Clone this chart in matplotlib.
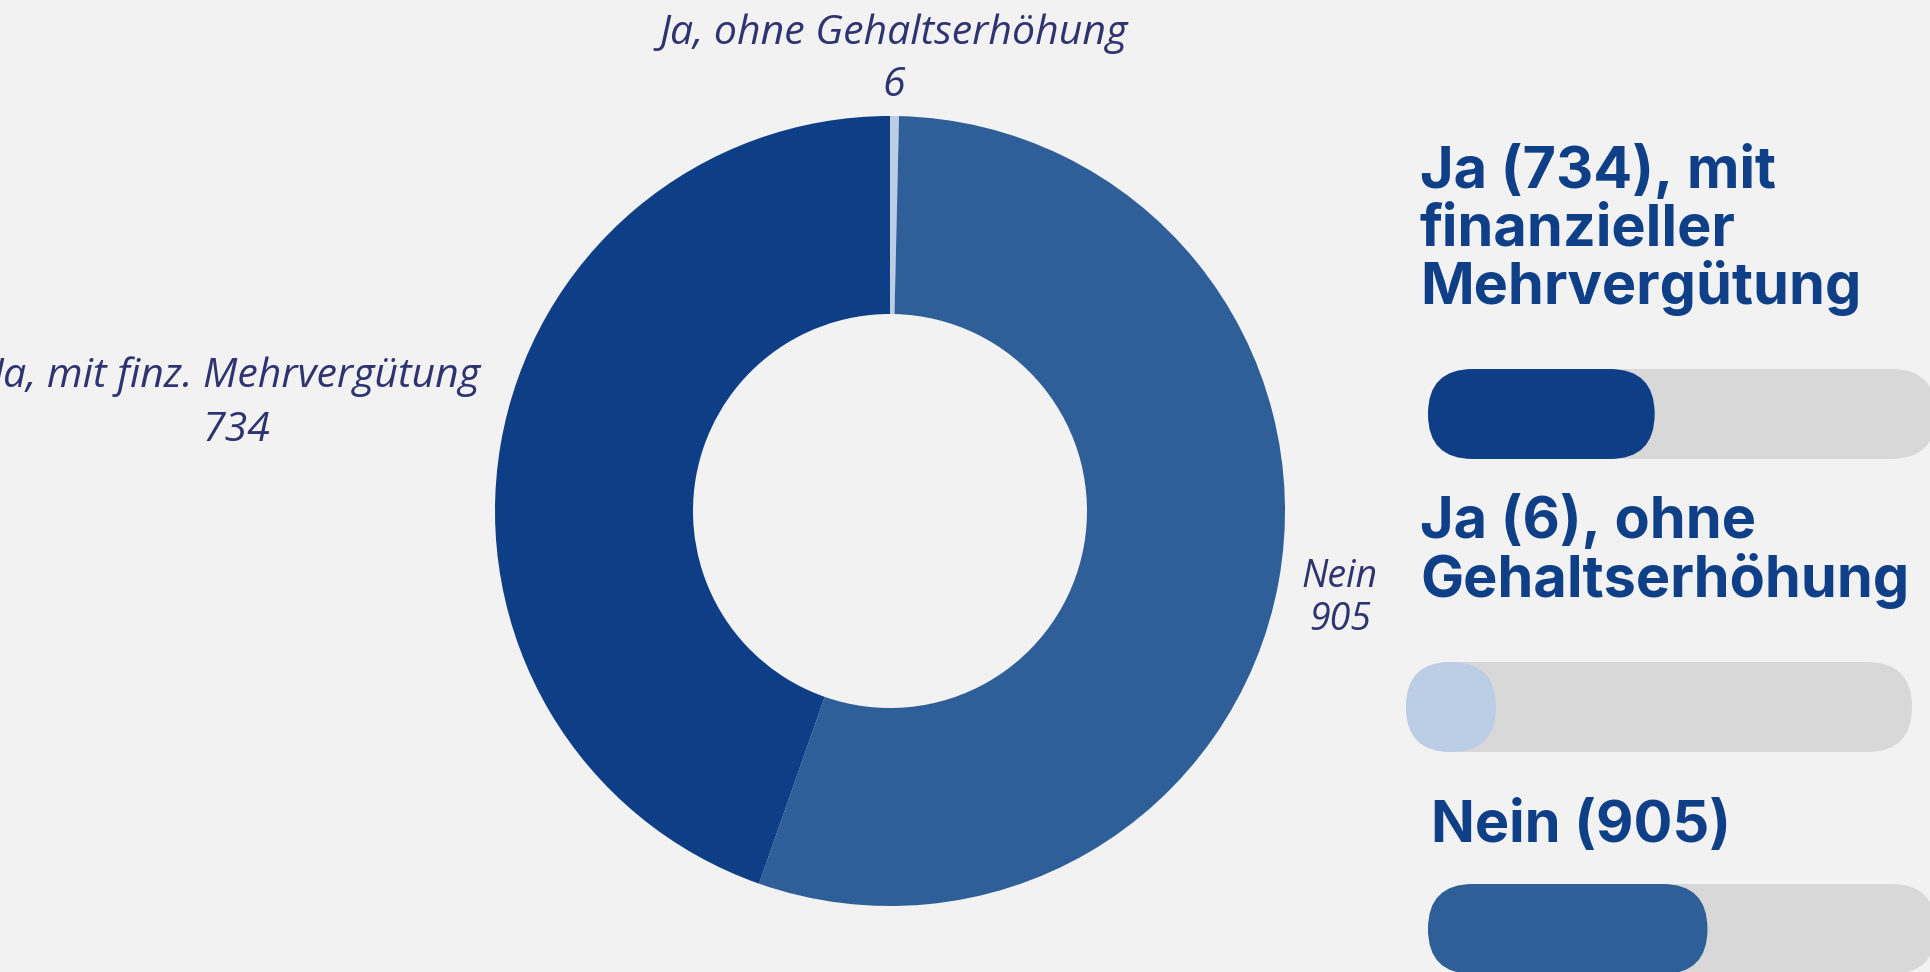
import matplotlib.pyplot as plt
from matplotlib.patches import FancyBboxPatch

# Daten der Umfrage
kategorien = ["Ja, ohne Gehaltserhöhung", "Nein", "Ja, mit finz. Mehrvergütung"]
werte = [6, 905, 734]
farben = ["#BCCDE6", "#2E5F98", "#0E3E86"]

# Überschriften und Reihenfolge der Fortschrittsbalken rechts
balken_reihenfolge = [2, 0, 1]
balken_titel = [
    ["Ja ({}), mit", "finanzieller", "Mehrvergütung"],
    ["Ja ({}), ohne", "Gehaltserhöhung"],
    ["Nein ({})"],
]

HINTERGRUND = "#F2F2F2"
SCHIENE = "#D8D8D8"
TEXT_LABEL = "#2F3370"
TEXT_TITEL = "#0E3F87"

B, H = 1931, 972  # Pixelgröße der Grafik


def Y(y):
    # Pixelkoordinate von oben -> Datenkoordinate von unten
    return H - y


fig = plt.figure(figsize=(B / 100, H / 100), dpi=100, facecolor=HINTERGRUND)
ax = fig.add_axes([0, 0, 1, 1])
ax.set_facecolor(HINTERGRUND)

# Donut-Diagramm
cx, cy, radius = 890, 511, 395
ax.pie(
    werte,
    colors=farben,
    startangle=90,
    counterclock=False,
    center=(cx, Y(cy)),
    radius=radius,
    wedgeprops=dict(width=198, linewidth=0),
)

# Beschriftungen am Donut (kursiv)
label_font = dict(family="Open Sans", style="italic", color=TEXT_LABEL, ha="center", va="baseline")
label_pos = [(894, 44, 96, 29.5), (1340, 587, 630, 27), (236, 387, 441, 29.5)]
for kat, wert, (x, y1, y2, gr) in zip(kategorien, werte, label_pos):
    anzeige = kat.split(",")[0] if kat == "Nein" else kat
    ax.text(x, Y(y1), anzeige, fontsize=gr, **label_font)
    ax.text(x, Y(y2), str(wert), fontsize=gr, **label_font)

# Fortschrittsbalken rechts
gesamt = sum(werte)
titel_x = [1420, 1420, 1431]
titel_basis = [[188, 246, 304], [538, 597], [842]]
balken_y = [414, 707, 929]
balken_x = [1428, 1406, 1428]
balken_ende = [1936, 1912, 1936]
balken_h = 90

for i, idx in enumerate(balken_reihenfolge):
    for zeile, yb in zip(balken_titel[i], titel_basis[i]):
        ax.text(titel_x[i], Y(yb), zeile.format(werte[idx]), fontsize=41.5,
                family="Inter", weight="bold", color=TEXT_TITEL,
                ha="left", va="baseline")

    x0 = balken_x[i]
    laenge = balken_ende[i] - x0
    y0 = Y(balken_y[i]) - balken_h / 2
    schiene = FancyBboxPatch(
        (x0, y0), laenge, balken_h,
        boxstyle=f"round,pad=0,rounding_size={balken_h / 2}",
        facecolor=SCHIENE, edgecolor="none", zorder=2,
    )
    ax.add_patch(schiene)
    fuell = max(werte[idx] / gesamt * laenge, balken_h)
    balken = FancyBboxPatch(
        (x0, y0), fuell, balken_h,
        boxstyle=f"round,pad=0,rounding_size={balken_h / 2}",
        facecolor=farben[idx], edgecolor="none", zorder=3,
    )
    ax.add_patch(balken)

ax.set_xlim(0, B)
ax.set_ylim(0, H)
ax.set_aspect("auto")
ax.axis("off")

fig.savefig("out.png", dpi=100, facecolor=HINTERGRUND)
plt.close(fig)
